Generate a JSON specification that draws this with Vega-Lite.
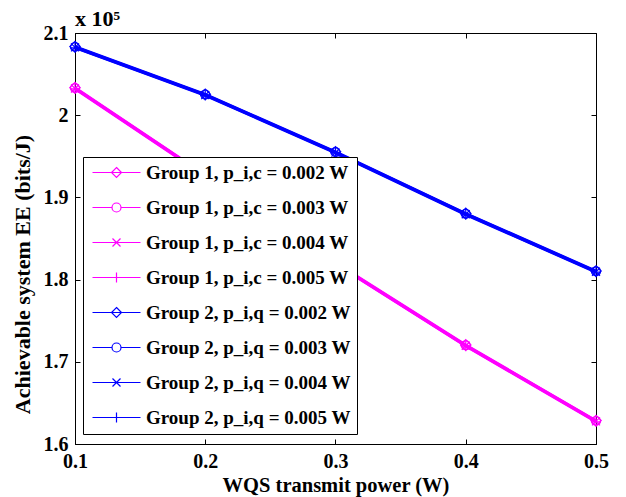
{
  "$schema": "https://vega.github.io/schema/vega-lite/v6.json",
  "width": 521,
  "height": 411,
  "autosize": {"type": "none"},
  "padding": {"left": 75, "top": 33, "right": 30, "bottom": 53},
  "background": "white",
  "title": {"text": "x 10⁵", "anchor": "start", "frame": "group", "font": "Liberation Serif", "fontSize": 22, "fontWeight": "bold", "color": "black", "offset": -8},
  "config": {
    "view": {"stroke": "black", "strokeWidth": 1},
    "axis": {"grid": false, "domainColor": "black", "domainWidth": 1, "tickColor": "black", "tickSize": -5, "labelColor": "black", "titleColor": "black", "labelFont": "Liberation Serif", "titleFont": "Liberation Serif", "labelFontWeight": "bold", "titleFontWeight": "bold", "labelFontSize": 20, "titleFontSize": 20, "labelFlush": false, "labelOverlap": false},
    "legend": {"title": null, "orient": "none", "legendX": 8, "legendY": 124, "labelFont": "Liberation Serif", "labelFontWeight": "bold", "labelFontSize": 19, "labelColor": "black", "symbolSize": 100, "symbolStrokeWidth": 1.2, "symbolOffset": 18, "labelOffset": 20, "rowPadding": 15, "padding": 6, "strokeColor": "black", "fillColor": "white", "labelLimit": 400}
  },
  "resolve": {"axis": {"x": "independent", "y": "independent"}},
  "data": {"values": [
    {"x":0.1,"ee":203350,"p":0.002,"series":"Group 1, p_i,c = 0.002 W"},
    {"x":0.2,"ee":192750,"p":0.002,"series":"Group 1, p_i,c = 0.002 W"},
    {"x":0.3,"ee":182050,"p":0.002,"series":"Group 1, p_i,c = 0.002 W"},
    {"x":0.4,"ee":172050,"p":0.002,"series":"Group 1, p_i,c = 0.002 W"},
    {"x":0.5,"ee":162850,"p":0.002,"series":"Group 1, p_i,c = 0.002 W"},
    {"x":0.1,"ee":203300,"p":0.003,"series":"Group 1, p_i,c = 0.003 W"},
    {"x":0.2,"ee":192700,"p":0.003,"series":"Group 1, p_i,c = 0.003 W"},
    {"x":0.3,"ee":182000,"p":0.003,"series":"Group 1, p_i,c = 0.003 W"},
    {"x":0.4,"ee":172000,"p":0.003,"series":"Group 1, p_i,c = 0.003 W"},
    {"x":0.5,"ee":162800,"p":0.003,"series":"Group 1, p_i,c = 0.003 W"},
    {"x":0.1,"ee":203250,"p":0.004,"series":"Group 1, p_i,c = 0.004 W"},
    {"x":0.2,"ee":192650,"p":0.004,"series":"Group 1, p_i,c = 0.004 W"},
    {"x":0.3,"ee":181950,"p":0.004,"series":"Group 1, p_i,c = 0.004 W"},
    {"x":0.4,"ee":171950,"p":0.004,"series":"Group 1, p_i,c = 0.004 W"},
    {"x":0.5,"ee":162750,"p":0.004,"series":"Group 1, p_i,c = 0.004 W"},
    {"x":0.1,"ee":203200,"p":0.005,"series":"Group 1, p_i,c = 0.005 W"},
    {"x":0.2,"ee":192600,"p":0.005,"series":"Group 1, p_i,c = 0.005 W"},
    {"x":0.3,"ee":181900,"p":0.005,"series":"Group 1, p_i,c = 0.005 W"},
    {"x":0.4,"ee":171900,"p":0.005,"series":"Group 1, p_i,c = 0.005 W"},
    {"x":0.5,"ee":162700,"p":0.005,"series":"Group 1, p_i,c = 0.005 W"},
    {"x":0.1,"ee":208350,"p":0.002,"series":"Group 2, p_i,q = 0.002 W"},
    {"x":0.2,"ee":202550,"p":0.002,"series":"Group 2, p_i,q = 0.002 W"},
    {"x":0.3,"ee":195550,"p":0.002,"series":"Group 2, p_i,q = 0.002 W"},
    {"x":0.4,"ee":188050,"p":0.002,"series":"Group 2, p_i,q = 0.002 W"},
    {"x":0.5,"ee":181050,"p":0.002,"series":"Group 2, p_i,q = 0.002 W"},
    {"x":0.1,"ee":208300,"p":0.003,"series":"Group 2, p_i,q = 0.003 W"},
    {"x":0.2,"ee":202500,"p":0.003,"series":"Group 2, p_i,q = 0.003 W"},
    {"x":0.3,"ee":195500,"p":0.003,"series":"Group 2, p_i,q = 0.003 W"},
    {"x":0.4,"ee":188000,"p":0.003,"series":"Group 2, p_i,q = 0.003 W"},
    {"x":0.5,"ee":181000,"p":0.003,"series":"Group 2, p_i,q = 0.003 W"},
    {"x":0.1,"ee":208250,"p":0.004,"series":"Group 2, p_i,q = 0.004 W"},
    {"x":0.2,"ee":202450,"p":0.004,"series":"Group 2, p_i,q = 0.004 W"},
    {"x":0.3,"ee":195450,"p":0.004,"series":"Group 2, p_i,q = 0.004 W"},
    {"x":0.4,"ee":187950,"p":0.004,"series":"Group 2, p_i,q = 0.004 W"},
    {"x":0.5,"ee":180950,"p":0.004,"series":"Group 2, p_i,q = 0.004 W"},
    {"x":0.1,"ee":208200,"p":0.005,"series":"Group 2, p_i,q = 0.005 W"},
    {"x":0.2,"ee":202400,"p":0.005,"series":"Group 2, p_i,q = 0.005 W"},
    {"x":0.3,"ee":195400,"p":0.005,"series":"Group 2, p_i,q = 0.005 W"},
    {"x":0.4,"ee":187900,"p":0.005,"series":"Group 2, p_i,q = 0.005 W"},
    {"x":0.5,"ee":180900,"p":0.005,"series":"Group 2, p_i,q = 0.005 W"}
  ]},
  "encoding": {
    "x": {"field": "x", "type": "quantitative", "scale": {"domain": [0.1, 0.5], "nice": false, "zero": false}, "axis": null},
    "y": {"field": "ee", "type": "quantitative", "scale": {"domain": [160000, 210000], "nice": false, "zero": false}, "axis": null},
    "color": {"field": "series", "type": "nominal",
      "scale": {"domain": ["Group 1, p_i,c = 0.002 W","Group 1, p_i,c = 0.003 W","Group 1, p_i,c = 0.004 W","Group 1, p_i,c = 0.005 W","Group 2, p_i,q = 0.002 W","Group 2, p_i,q = 0.003 W","Group 2, p_i,q = 0.004 W","Group 2, p_i,q = 0.005 W"],
        "range": ["#ff00ff","#ff00ff","#ff00ff","#ff00ff","#0000ff","#0000ff","#0000ff","#0000ff"]}}
  },
  "layer": [
    {"transform": [{"filter": "datum.x < 0"}], "mark": {"type": "point", "opacity": 0},
      "encoding": {
        "x": {"field": "x", "type": "quantitative", "axis": {"orient": "top", "labels": false, "title": null, "domain": false, "values": [0.1, 0.2, 0.3, 0.4, 0.5]}},
        "y": {"field": "ee", "type": "quantitative", "axis": {"orient": "right", "labels": false, "title": null, "domain": false, "values": [160000, 170000, 180000, 190000, 200000, 210000]}}
      }},
    {"mark": {"type": "line", "strokeWidth": 2.7},
      "encoding": {
        "detail": {"field": "series"},
        "x": {"field": "x", "type": "quantitative", "axis": {"title": "WQS transmit power (W)", "values": [0.1, 0.2, 0.3, 0.4, 0.5], "format": ".1f", "labelPadding": 12, "titlePadding": 4, "titleFontSize": 20.5}},
        "y": {"field": "ee", "type": "quantitative", "axis": {"title": "Achievable system EE (bits/J)", "values": [160000, 170000, 180000, 190000, 200000, 210000], "labelExpr": "format(datum.value/100000, '.1~f')", "labelPadding": 12, "titlePadding": 9, "titleFontSize": 22, "titleY": 241}}
      }},
    {"transform": [{"filter": "datum.p == 0.002"}], "mark": {"type": "point", "shape": "diamond", "filled": false, "size": 110, "strokeWidth": 1.2, "opacity": 1}},
    {"transform": [{"filter": "datum.p == 0.003"}], "mark": {"type": "point", "shape": "circle", "filled": false, "size": 80, "strokeWidth": 1.2, "opacity": 1}},
    {"transform": [{"filter": "datum.p == 0.004"}], "mark": {"type": "point", "shape": "M-0.8,-0.8L0.8,0.8M-0.8,0.8L0.8,-0.8", "filled": false, "size": 100, "strokeWidth": 1.2, "opacity": 1}},
    {"transform": [{"filter": "datum.p == 0.005"}], "mark": {"type": "point", "shape": "M-1,0L1,0M0,-1L0,1", "filled": false, "size": 100, "strokeWidth": 1.2, "opacity": 1}},
    {"transform": [{"filter": "datum.x < 0"}], "mark": {"type": "point", "filled": false, "size": 100, "strokeWidth": 1.2, "opacity": 1},
      "encoding": {
        "shape": {"field": "series", "type": "nominal",
          "scale": {"domain": ["Group 1, p_i,c = 0.002 W","Group 1, p_i,c = 0.003 W","Group 1, p_i,c = 0.004 W","Group 1, p_i,c = 0.005 W","Group 2, p_i,q = 0.002 W","Group 2, p_i,q = 0.003 W","Group 2, p_i,q = 0.004 W","Group 2, p_i,q = 0.005 W"],
            "range": ["M-4.8,0L4.8,0M0,-1L1,0L0,1L-1,0Z", "M-4.8,0L-0.9,0M0.9,0L4.8,0M-0.9,0A0.9,0.9,0,1,0,0.9,0A0.9,0.9,0,1,0,-0.9,0", "M-4.8,0L4.8,0M-0.8,-0.8L0.8,0.8M-0.8,0.8L0.8,-0.8", "M-4.8,0L4.8,0M0,-1L0,1", "M-4.8,0L4.8,0M0,-1L1,0L0,1L-1,0Z", "M-4.8,0L-0.9,0M0.9,0L4.8,0M-0.9,0A0.9,0.9,0,1,0,0.9,0A0.9,0.9,0,1,0,-0.9,0", "M-4.8,0L4.8,0M-0.8,-0.8L0.8,0.8M-0.8,0.8L0.8,-0.8", "M-4.8,0L4.8,0M0,-1L0,1"]}}
      }}
  ]
}
